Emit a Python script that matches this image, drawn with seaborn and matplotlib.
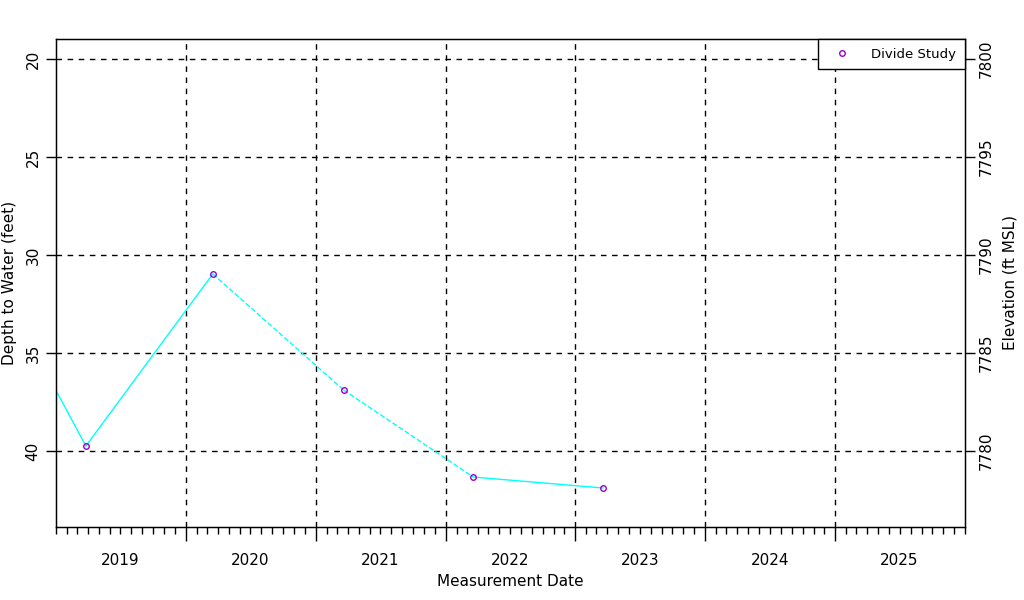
import pandas as pd
import numpy as np
import matplotlib
matplotlib.use("Agg")
import matplotlib.pyplot as plt
import matplotlib.dates as mdates
from matplotlib.ticker import FuncFormatter
import seaborn as sns

# well measurements (first one lies before the plotted window)
dates = ["2018-10-01", "2019-03-26", "2020-03-17", "2021-03-20", "2022-03-20", "2023-03-20"]
depths = [33.8, 39.75, 30.97, 36.89, 41.33, 41.89]
# style of the segment leading to each point (after the first)
seg_styles = ["-", "-", "--", "--", "-"]
land_surface = 7820.0
series_name = "Divide Study"
grid_years = [2020, 2021, 2022, 2023, 2024, 2025]

df = pd.DataFrame({"date": pd.to_datetime(dates), "depth": depths})

sns.set_style("white")
plt.rcParams["font.family"] = ["DejaVu Sans"]
plt.rcParams["text.color"] = "black"
plt.rcParams["axes.labelcolor"] = "black"
plt.rcParams["xtick.color"] = "black"
plt.rcParams["ytick.color"] = "black"

fig = plt.figure(figsize=(10.24, 6), dpi=100)
ax = fig.add_axes([56 / 1024, 1 - 527 / 600, (965 - 56) / 1024, (527 - 39) / 600])

for i, ls in enumerate(seg_styles):
    seg = df.iloc[i:i + 2]
    sns.lineplot(data=seg, x="date", y="depth", ax=ax, color="#00ffff",
                 linewidth=1, linestyle=ls, legend=False)

pts = df[df["date"] >= "2019-01-01"]
ax.plot(pts["date"], pts["depth"], linestyle="none", marker="o", markersize=4,
        markerfacecolor="none", markeredgecolor="#9900cc", markeredgewidth=1,
        label=series_name)

ax.set_xlim(pd.Timestamp("2019-01-01"), pd.Timestamp("2026-01-01"))
ax.set_ylim(43.88, 18.98)

# x ticks: years (grid), months (minor), year labels mid-year
ax.set_xticks([pd.Timestamp(f"{y}-01-01") for y in grid_years])
ax.xaxis.set_major_formatter(FuncFormatter(lambda v, p: ""))
ax.xaxis.set_minor_locator(mdates.MonthLocator())
ax.xaxis.set_minor_formatter(FuncFormatter(
    lambda v, p: str(mdates.num2date(v).year) if mdates.num2date(v).month == 7 else ""))
ax.tick_params(axis="x", which="major", bottom=True, length=10, width=1,
               direction="out", color="black")
ax.tick_params(axis="x", which="minor", bottom=True, length=5, width=1,
               direction="out", color="black", pad=14, labelsize=11)

ax.set_yticks([20, 25, 30, 35, 40])
ax.tick_params(axis="y", left=True, length=7, width=1, direction="out",
               color="black", labelsize=11, pad=4)
for lbl in ax.get_yticklabels():
    lbl.set_rotation(90)
    lbl.set_va("center")

ax.grid(True, which="major", color="black", linestyle=(0, (4, 4)), linewidth=1)
for s in ax.spines.values():
    s.set_color("black")
    s.set_linewidth(1)

ax.set_xlabel("Measurement Date", fontsize=11, labelpad=4)
ax.set_ylabel("Depth to Water (feet)", fontsize=11, labelpad=6)

ax2 = ax.twinx()
ax2.set_ylim(land_surface - 43.88, land_surface - 18.98)
ax2.set_yticks([7780, 7785, 7790, 7795, 7800])
ax2.tick_params(axis="y", right=True, length=7, width=1, direction="out",
                color="black", labelsize=11, pad=3)
for lbl in ax2.get_yticklabels():
    lbl.set_rotation(90)
    lbl.set_va("center")
ax2.set_ylabel("Elevation (ft MSL)", fontsize=11, labelpad=6)
for s in ax2.spines.values():
    s.set_color("black")

leg = ax2.legend(*ax.get_legend_handles_labels(), loc="upper right", frameon=True,
                 fancybox=False, framealpha=1, fontsize=9.5, borderaxespad=0,
                 handlelength=2.4, handletextpad=1.0, borderpad=0.65)
leg.get_frame().set_edgecolor("black")
leg.get_frame().set_linewidth(1)

fig.savefig("out.png", dpi=100)
